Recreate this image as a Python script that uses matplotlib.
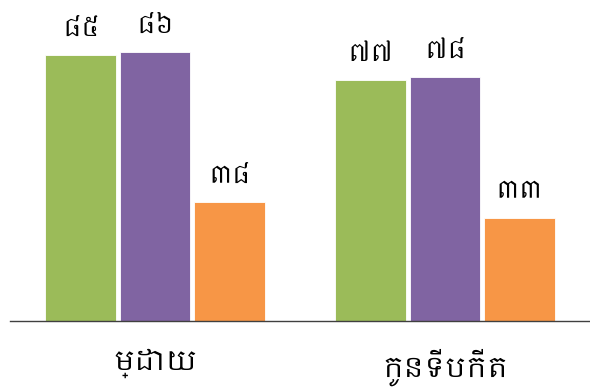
import matplotlib
matplotlib.use("Agg")
import matplotlib.pyplot as plt
from matplotlib import font_manager as fm
import numpy as np

categories = ["ម្ដាយ", "កូនទើបកើត"]
series_a = [85, 77]
series_b = [86, 78]
series_c = [38, 33]
khmer_digits = "០១២៣៤៥៦៧៨៩"
colors = ["#9BBB59", "#8064A2", "#F79646"]

def to_khmer(n):
    return "".join(khmer_digits[int(d)] for d in str(n))

khmer_fams = sorted({f.name for f in fm.fontManager.ttflist if "khmer" in f.name.lower()})
fams = khmer_fams + ["Noto Sans", "DejaVu Sans"]
plt.rcParams["font.family"] = fams

fig = plt.figure(figsize=(5.90, 3.89), dpi=100)
ax = fig.add_axes([10/590, (389-321)/389, 580/590, 321/389])

x = np.arange(len(categories))
w = 0.244
step = 0.256
for i, (vals, c) in enumerate(zip([series_a, series_b, series_c], colors)):
    bars = ax.bar(x + (i - 1) * step, vals, width=w, color=c, edgecolor="white", linewidth=0.6)
    for b, v in zip(bars, vals):
        ax.text(b.get_x() + b.get_width()/2, v + 4.5, to_khmer(v), ha="center", va="bottom",
                fontsize=18, color="#000000")

ax.set_xlim(-0.5, 1.5)
ax.set_ylim(0, 102.6)
ax.set_yticks([])
ax.set_xticks(x)
ax.set_xticklabels(categories, fontsize=20)
ax.tick_params(axis="x", length=0, pad=20)
for s in ["top", "right", "left"]:
    ax.spines[s].set_visible(False)
ax.spines["bottom"].set_color("#404040")
ax.spines["bottom"].set_linewidth(1)

fig.savefig("out.png", dpi=100)
